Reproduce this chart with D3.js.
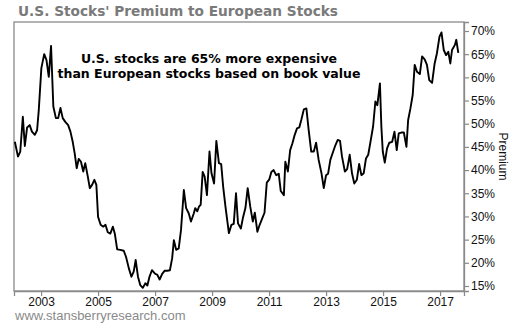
<!DOCTYPE html>
<html><head><meta charset="utf-8">
<script src="https://cdn.jsdelivr.net/npm/d3@7/dist/d3.min.js"></script>
<style>body{margin:0;background:#fff}svg{display:block}</style>
</head><body><svg id="chart" width="510" height="325"></svg>
<script>
const years = [
2002.08,2002.19,2002.27,2002.36,2002.43,2002.51,2002.60,2002.68,2002.78,2002.86,2002.92,
2003.01,2003.11,2003.19,2003.27,2003.35,2003.43,2003.52,2003.60,2003.68,2003.76,2003.85,2003.95,
2004.03,2004.11,2004.18,2004.25,2004.32,2004.40,2004.48,2004.55,2004.64,2004.71,2004.79,2004.87,2004.94,
2005.00,2005.09,2005.18,2005.26,2005.34,2005.43,2005.52,2005.59,2005.67,2005.78,2005.90,2005.98,
2006.08,2006.17,2006.25,2006.32,2006.40,2006.48,2006.57,2006.66,2006.73,2006.80,2006.89,2006.99,
2007.08,2007.16,2007.25,2007.34,2007.43,2007.52,2007.60,2007.66,2007.74,2007.83,2007.91,
2008.01,2008.09,2008.18,2008.26,2008.36,2008.41,2008.48,2008.54,2008.60,2008.67,2008.74,2008.82,2008.91,2008.98,
2009.07,2009.15,2009.24,2009.32,2009.39,2009.47,2009.59,2009.68,2009.76,2009.84,2009.91,
2010.01,2010.09,2010.17,2010.25,2010.34,2010.43,2010.50,2010.59,2010.67,2010.75,2010.84,2010.92,
2011.01,2011.08,2011.16,2011.25,2011.34,2011.41,2011.52,2011.57,2011.66,2011.74,2011.82,2011.90,2011.98,
2012.06,2012.13,2012.22,2012.31,2012.39,2012.48,2012.57,2012.65,2012.74,2012.84,2012.92,
2013.00,2013.07,2013.15,2013.25,2013.33,2013.41,2013.49,2013.56,2013.66,2013.74,2013.83,2013.91,2013.99,
2014.08,2014.16,2014.24,2014.32,2014.40,2014.48,2014.57,2014.65,2014.73,2014.80,2014.89,2014.94,2014.99,
2015.06,2015.14,2015.22,2015.32,2015.40,2015.48,2015.55,2015.64,2015.73,2015.82,2015.88,2015.96,
2016.04,2016.11,2016.19,2016.29,2016.37,2016.46,2016.54,2016.62,2016.72,2016.81,2016.89,2016.98,
2017.05,2017.13,2017.21,2017.29,2017.36,2017.42,2017.52,2017.57,2017.64
];
const premium = [
46.1,42.9,44.0,51.5,45.2,49.2,49.7,48.3,47.6,48.6,53.0,
62.0,65.0,63.7,60.1,66.8,53.7,51.2,51.2,53.4,51.2,50.4,49.7,
48.3,46.1,43.6,40.4,42.4,41.8,39.7,41.5,38.6,36.1,36.8,37.9,36.8,
29.9,28.2,27.8,28.2,26.6,26.3,27.8,26.2,22.9,22.8,22.6,21.3,
18.8,17.0,18.1,20.6,17.0,15.2,14.6,15.6,15.1,16.9,18.4,17.7,
17.4,16.4,17.6,18.3,18.3,18.4,21.0,24.9,22.8,23.1,27.1,
35.7,31.8,30.7,28.9,30.7,31.8,31.1,32.1,32.5,39.6,38.6,34.6,44.0,39.3,
37.1,46.3,41.5,41.3,36.4,32.1,26.4,28.2,28.4,35.0,28.5,
27.4,29.9,31.8,36.1,32.1,28.9,30.8,26.7,28.2,29.4,30.8,37.3,
38.0,39.6,40.0,38.9,39.2,35.5,34.6,41.8,39.7,44.3,45.8,47.6,49.0,
49.2,50.8,53.1,53.3,48.6,44.0,44.0,45.9,42.2,39.3,36.1,
38.9,39.2,42.2,44.0,45.4,46.5,46.3,42.9,39.7,40.2,43.3,39.3,37.1,
37.9,41.3,38.9,39.3,42.5,43.3,46.5,49.4,54.8,54.0,58.7,49.4,44.0,
41.6,44.7,45.9,46.1,48.3,44.3,47.9,48.1,48.1,45.0,50.8,53.3,
56.2,62.7,61.2,60.7,64.5,63.9,62.7,59.4,58.8,63.0,65.2,68.8,
69.7,65.9,64.8,65.5,63.0,65.9,67.0,68.1,65.3
];
const xTickYears = [2003,2005,2007,2009,2011,2013,2015,2017];
const yTickValues = [15,20,25,30,35,40,45,50,55,60,65,70];
const titleText = "U.S. Stocks' Premium to European Stocks";
const noteLines = ["U.S. stocks are 65% more expensive", "than European stocks based on book value"];
const yAxisTitle = "Premium";
const sourceText = "www.stansberryresearch.com";

const data = years.map((y, i) => ({year: y, value: premium[i]}));

const svg = d3.select("#chart");
const L = 14, R = 464, T = 22, B = 291;
const x = d3.scaleLinear().domain([2002.05, 2017.84]).range([L, R]);
const y = d3.scaleLinear().domain([13.92, 71.94]).range([B, T]);
const frameColor = "#8a8a8a";

// frame
svg.append("rect").attr("x", L).attr("y", T).attr("width", R - L).attr("height", B - T)
  .attr("fill", "none").attr("stroke", frameColor).attr("stroke-width", 1.3);

// right axis
const yAxis = svg.append("g").attr("transform", `translate(${R},0)`)
  .call(d3.axisRight(y).tickValues(yTickValues).tickFormat(d => d + "%").tickSize(5).tickPadding(2));
yAxis.select(".domain").attr("stroke", frameColor).attr("stroke-width", 1.3);
yAxis.selectAll(".tick line").attr("stroke", frameColor).attr("stroke-width", 1.2);
yAxis.selectAll(".tick text").attr("font-family", "Liberation Sans, Arial, sans-serif")
  .attr("font-size", 12).attr("fill", "#111");

// bottom axis
const xAxis = svg.append("g").attr("transform", `translate(0,${B})`)
  .call(d3.axisBottom(x).tickValues(xTickYears).tickFormat(d3.format("d")).tickSize(5).tickPadding(1));
xAxis.select(".domain").attr("stroke", frameColor).attr("stroke-width", 1.3);
xAxis.selectAll(".tick line").attr("stroke", frameColor).attr("stroke-width", 1.2);
xAxis.selectAll(".tick text").attr("font-family", "Liberation Sans, Arial, sans-serif")
  .attr("font-size", 12).attr("fill", "#111");

// line
const line = d3.line().x(d => x(d.year)).y(d => y(d.value));
svg.append("path").datum(data).attr("d", line)
  .attr("fill", "none").attr("stroke", "#000").attr("stroke-width", 1.9)
  .attr("stroke-linejoin", "round");

// title
svg.append("text").attr("x", 18).attr("y", 16).text(titleText)
  .attr("font-family", "DejaVu Sans, Verdana, sans-serif").attr("font-weight", "bold")
  .attr("font-size", 13.7).attr("fill", "#7a7a7a");

// annotation
const note = svg.append("text").attr("text-anchor", "middle")
  .attr("font-family", "DejaVu Sans, Verdana, sans-serif").attr("font-weight", "bold")
  .attr("font-size", 12.5).attr("fill", "#000");
noteLines.forEach((t, i) => note.append("tspan").attr("x", 209).attr("y", 62.5 + i * 15).text(t));

// y axis title
svg.append("text").attr("transform", `translate(499,${(T + B) / 2}) rotate(90)`)
  .attr("text-anchor", "middle").text(yAxisTitle)
  .attr("font-family", "Liberation Sans, Arial, sans-serif").attr("font-size", 12).attr("fill", "#111");

// source
svg.append("text").attr("x", 15).attr("y", 320).text(sourceText)
  .attr("font-family", "Liberation Sans, Arial, sans-serif").attr("font-size", 13).attr("fill", "#8a8a8a");
</script>
</body></html>
